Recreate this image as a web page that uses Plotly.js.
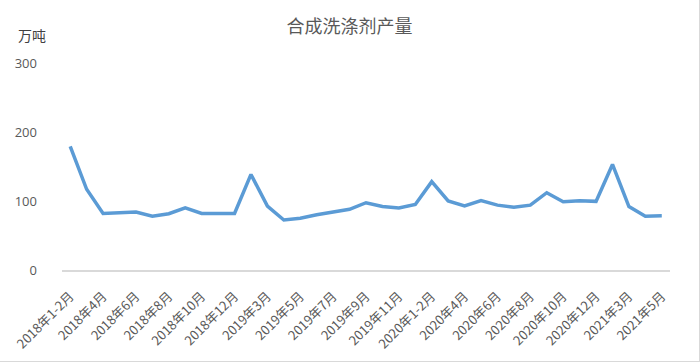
<!DOCTYPE html>
<html>
<head>
<meta charset="utf-8">
<script src="https://cdn.plot.ly/plotly-3.0.1.min.js"></script>
<style>
html,body{margin:0;padding:0;background:#fff;}
#wrap{width:700px;height:362px;box-sizing:border-box;border-right:1px solid #d9d9d9;border-bottom:1px solid #d9d9d9;}
#chart{width:699px;height:361px;}
</style>
</head>
<body>
<div id="wrap"><div id="chart"></div></div>
<script>
const categories = [
  "2018年1-2月","2018年3月","2018年4月","2018年5月","2018年6月","2018年7月","2018年8月","2018年9月","2018年10月","2018年11月","2018年12月",
  "2019年1-2月","2019年3月","2019年4月","2019年5月","2019年6月","2019年7月","2019年8月","2019年9月","2019年10月","2019年11月","2019年12月",
  "2020年1-2月","2020年3月","2020年4月","2020年5月","2020年6月","2020年7月","2020年8月","2020年9月","2020年10月","2020年11月","2020年12月",
  "2021年1-2月","2021年3月","2021年4月","2021年5月"
];
const production = [
  179,117,82,83.5,84,78,81.5,90,82,82,82,
  138.5,92.5,72.5,75,80,84,88,97.5,92,90,95,
  128,100,93,100.5,94,91,94,112,99,100.5,99.5,
  153,92,78,78.5
];
const tickLabels = categories.filter((c,i)=>i%2===0);

const trace = {
  type:'scatter', mode:'lines',
  x: categories, y: production,
  line:{color:'#5b9bd5', width:3.5},
  hoverinfo:'x+y'
};
const layout = {
  width:699, height:361,
  margin:{l:62, r:29, t:63, b:91},
  paper_bgcolor:'#fff', plot_bgcolor:'#fff',
  font:{family:'"Noto Sans CJK SC", "Open Sans", sans-serif', color:'#595959', size:12},
  title:{text:'合成洗涤剂产量', x:0.5, xanchor:'center', y:0.925, yanchor:'middle',
         font:{size:18, color:'#595959', family:'"Noto Sans CJK SC", sans-serif'}},
  showlegend:false,
  xaxis:{
    type:'category', tickmode:'array', tickvals:tickLabels, ticktext:tickLabels,
    tickangle:-45, showgrid:false, zeroline:false,
    showline:true, linecolor:'#d9d9d9', linewidth:1.5, ticks:'', ticklabelstandoff:12,
    tickfont:{size:13, color:'#595959'}, range:[-0.5, categories.length-0.5]
  },
  yaxis:{
    range:[0,300], tickvals:[0,100,200,300], showgrid:false, zeroline:false,
    showline:false, ticks:'', ticklabelstandoff:24,
    tickfont:{size:13, color:'#595959', family:'"Open Sans", sans-serif'}
  },
  annotations:[{
    text:'万吨', xref:'paper', yref:'paper', x:-0.05, y:1.135, xanchor:'center', yanchor:'middle',
    showarrow:false, font:{size:14, color:'#404040'}
  }]
};
Plotly.newPlot('chart',[trace],layout,{displayModeBar:false,staticPlot:true});
</script>
</body>
</html>
